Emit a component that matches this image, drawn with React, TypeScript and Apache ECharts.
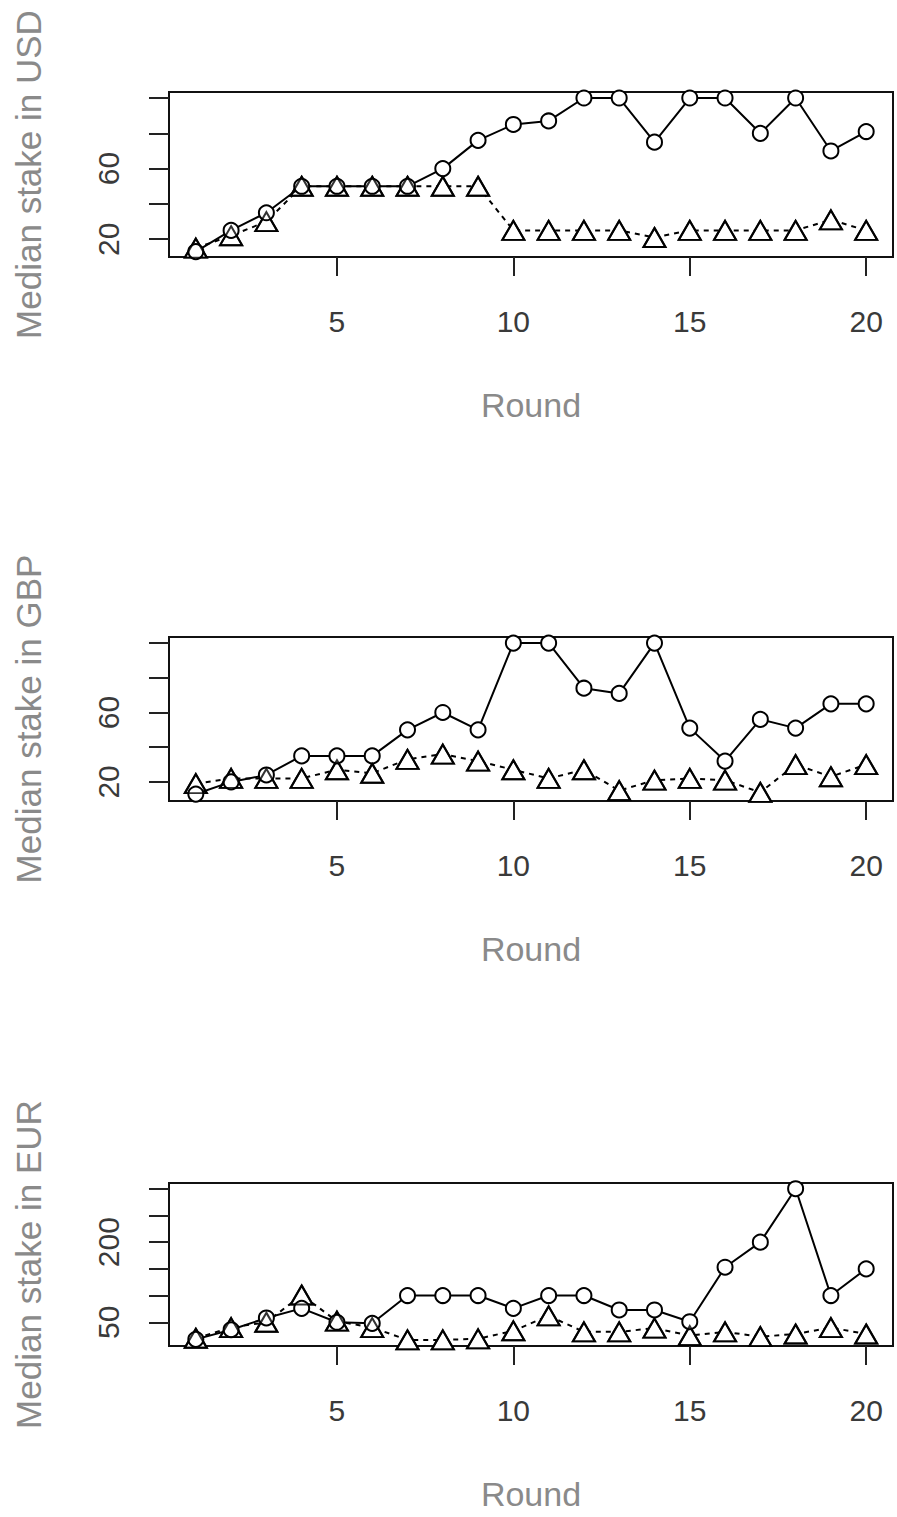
import React, { useEffect, useRef } from "react";
import * as echarts from "echarts";

const rounds = [1, 2, 3, 4, 5, 6, 7, 8, 9, 10, 11, 12, 13, 14, 15, 16, 17, 18, 19, 20];

const usdCircles = [13, 25, 35, 50, 50, 50, 50, 60, 76, 85, 87, 100, 100, 75, 100, 100, 80, 100, 70, 81];
const usdTriangles = [15, 22, 30, 50, 50, 50, 50, 50, 50, 25, 25, 25, 25, 21, 25, 25, 25, 25, 31, 25];

const gbpCircles = [13, 20, 24, 35, 35, 35, 50, 60, 50, 100, 100, 74, 71, 100, 51, 32, 56, 51, 65, 65];
const gbpTriangles = [19, 22, 22, 22, 27, 25, 33, 36, 32, 27, 22, 27, 15, 21, 22, 21, 14, 30, 23, 30];

const eurCircles = [18, 36, 58, 76, 50, 48, 100, 100, 100, 76, 100, 100, 73, 73, 51, 153, 200, 300, 100, 150];
const eurTriangles = [20, 40, 50, 101, 52, 40, 17, 17, 19, 34, 62, 32, 32, 39, 25, 32, 23, 28, 40, 28];

const xTicks = [5, 10, 15, 20];
const usdYTicks = [20, 40, 60, 80, 100];
const usdYLabels = [20, 60];
const gbpYTicks = [20, 40, 60, 80, 100];
const gbpYLabels = [20, 60];
const eurYTicks = [50, 100, 150, 200, 250, 300];
const eurYLabels = [50, 200];

const panels = [
  { title: "Median stake in USD", circles: usdCircles, triangles: usdTriangles, ticks: usdYTicks, labels: usdYLabels, min: 9.94, max: 103.4, top: 92, height: 165 },
  { title: "Median stake in GBP", circles: gbpCircles, triangles: gbpTriangles, ticks: gbpYTicks, labels: gbpYLabels, min: 9.0, max: 103.5, top: 637, height: 164 },
  { title: "Median stake in EUR", circles: eurCircles, triangles: eurTriangles, ticks: eurYTicks, labels: eurYLabels, min: 5.55, max: 310.7, top: 1183, height: 163 },
];

const FONT = "'Liberation Sans', Arial, sans-serif";

export default function App() {
  const ref = useRef<HTMLDivElement>(null);
  useEffect(() => {
    if (!ref.current) return;
    const chart = echarts.init(ref.current, undefined, { renderer: "svg" });
    const grids: any[] = [];
    const xAxes: any[] = [];
    const yAxes: any[] = [];
    const series: any[] = [];
    panels.forEach((p, i) => {
      grids.push({
        left: 169,
        top: p.top,
        width: 724,
        height: p.height,
        show: true,
        borderColor: "#111",
        borderWidth: 2,
        backgroundColor: "transparent",
      });
      xAxes.push({
        type: "value",
        gridIndex: i,
        min: 0.24,
        max: 20.76,
        name: "Round",
        nameLocation: "middle",
        nameGap: 131,
        nameTextStyle: { fontFamily: FONT, fontSize: 34, color: "#8a8a8a" },
        axisLine: { show: false },
        splitLine: { show: false },
        axisTick: { show: true, length: 19, inside: false, customValues: xTicks, lineStyle: { color: "#222", width: 2 } },
        axisLabel: { customValues: xTicks, margin: 49, fontFamily: FONT, fontSize: 30, color: "#3a3a3a" },
      });
      yAxes.push({
        type: "value",
        gridIndex: i,
        min: p.min,
        max: p.max,
        name: p.title,
        nameLocation: "middle",
        nameGap: 123,
        nameTextStyle: { fontFamily: FONT, fontSize: 35, color: "#8a8a8a" },
        axisLine: { show: false },
        splitLine: { show: false },
        axisTick: { show: true, length: 20, inside: false, customValues: p.ticks, lineStyle: { color: "#222", width: 2 } },
        axisLabel: { customValues: p.labels, rotate: 90, margin: 46, fontFamily: FONT, fontSize: 30, color: "#3a3a3a" },
      });
      const tri = rounds.map((r, k) => [r, p.triangles[k]]);
      const cir = rounds.map((r, k) => [r, p.circles[k]]);
      series.push({
        type: "line",
        xAxisIndex: i,
        yAxisIndex: i,
        data: tri,
        symbol: "emptyTriangle",
        symbolSize: [22, 19],
        showSymbol: true,
        lineStyle: { color: "#000", width: 2, type: [5, 5] },
        itemStyle: { color: "#000", borderWidth: 2 },
        z: 2,
        silent: true,
      });
      series.push({
        type: "line",
        xAxisIndex: i,
        yAxisIndex: i,
        data: cir,
        symbol: "emptyCircle",
        symbolSize: 15,
        showSymbol: true,
        lineStyle: { color: "#000", width: 2 },
        itemStyle: { color: "#000", borderWidth: 2 },
        z: 3,
        silent: true,
      });
      series.push({
        type: "scatter",
        xAxisIndex: i,
        yAxisIndex: i,
        data: tri,
        symbol: "triangle",
        symbolSize: [22, 19],
        itemStyle: { color: "rgba(0,0,0,0)", borderColor: "#000", borderWidth: 2 },
        z: 4,
        silent: true,
      });
    });
    chart.setOption({
      animation: false,
      backgroundColor: "#fff",
      grid: grids,
      xAxis: xAxes,
      yAxis: yAxes,
      series,
    });
    return () => chart.dispose();
  }, []);
  return (
    <div
      ref={ref}
      style={{ position: "absolute", left: 0, top: 0, width: 897, height: 1517, background: "#fff" }}
    />
  );
}
